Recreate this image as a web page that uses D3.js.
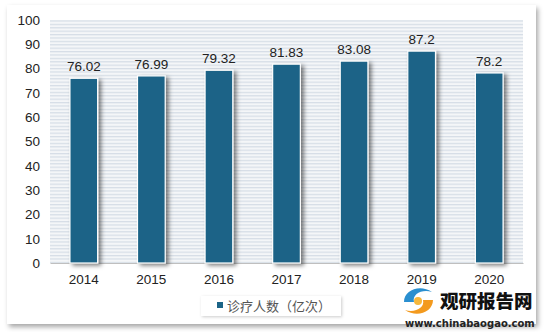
<!DOCTYPE html>
<html><head><meta charset="utf-8">
<script src="https://cdn.jsdelivr.net/npm/d3@7"></script>
<style>body{margin:0;background:#fff;}svg{display:block;}</style>
</head><body>
<script>
const categories = ["2014","2015","2016","2017","2018","2019","2020"];
const values = [76.02,76.99,79.32,81.83,83.08,87.2,78.2];
const valueLabels = ["76.02","76.99","79.32","81.83","83.08","87.2","78.2"];
const yTicks = [0,10,20,30,40,50,60,70,80,90,100];
const seriesName = "诊疗人数（亿次）";

const W=545,H=332;
const svg=d3.select("body").append("svg").attr("width",W).attr("height",H);
const defs=svg.append("defs");
const f=defs.append("filter").attr("id","frameShadow").attr("x","-5%").attr("y","-5%").attr("width","110%").attr("height","115%");
f.append("feDropShadow").attr("dx",2).attr("dy",3).attr("stdDeviation",2.5).attr("flood-color","#000").attr("flood-opacity",0.35);
const bf=defs.append("filter").attr("id","barShadow").attr("x","-30%").attr("y","-10%").attr("width","160%").attr("height","120%");
bf.append("feDropShadow").attr("dx",3).attr("dy",2).attr("stdDeviation",2).attr("flood-color","#000").attr("flood-opacity",0.5);
const lf=defs.append("filter").attr("id","legShadow").attr("x","-10%").attr("y","-20%").attr("width","120%").attr("height","150%");
lf.append("feDropShadow").attr("dx",1).attr("dy",1).attr("stdDeviation",1.5).attr("flood-color","#000").attr("flood-opacity",0.2);
const pat=defs.append("pattern").attr("id","stripes").attr("patternUnits","userSpaceOnUse").attr("width",4).attr("height",3.4);
pat.append("rect").attr("width",4).attr("height",3.4).attr("fill","#f4f6f8");
pat.append("rect").attr("y",0).attr("width",4).attr("height",1.2).attr("fill","#d5dde6");

svg.append("rect").attr("width",W).attr("height",H).attr("fill","#fff");
svg.append("rect").attr("x",7).attr("y",5).attr("width",529).attr("height",319).attr("fill","#fff").attr("filter","url(#frameShadow)");

const m={l:50,r:523,t:20,b:263};
const x=d3.scaleBand().domain(categories).range([m.l,m.r]).paddingInner(0.59).paddingOuter(0.295);
const y=d3.scaleLinear().domain([0,100]).range([m.b,m.t]);

svg.append("rect").attr("x",m.l).attr("y",m.t).attr("width",m.r-m.l).attr("height",m.b-m.t).attr("fill","url(#stripes)");

const yAxis=svg.append("g").attr("transform",`translate(${m.l},0)`)
 .call(d3.axisLeft(y).tickValues(yTicks).tickSize(0).tickPadding(10));
yAxis.select(".domain").remove();
yAxis.selectAll("text").attr("font-family","Liberation Sans, Arial, sans-serif").attr("font-size",13.5).attr("fill","#222");

const xAxis=svg.append("g").attr("transform",`translate(0,${m.b})`)
 .call(d3.axisBottom(x).tickSize(0).tickPadding(11));
xAxis.select(".domain").attr("stroke","#bfbfbf");
xAxis.selectAll("text").attr("font-family","Liberation Sans, Arial, sans-serif").attr("font-size",13.5).attr("fill","#222");

const data=categories.map((c,i)=>({c,v:values[i],l:valueLabels[i]}));
svg.append("g").selectAll("rect").data(data).join("rect")
 .attr("x",d=>x(d.c)).attr("y",d=>y(d.v)).attr("width",x.bandwidth()).attr("height",d=>y(0)-y(d.v))
 .attr("fill","#1b6487").attr("stroke","#fff").attr("stroke-width",1.2).attr("filter","url(#barShadow)");
svg.append("g").selectAll("text").data(data).join("text")
 .attr("x",d=>x(d.c)+x.bandwidth()/2).attr("y",d=>y(d.v)-7).attr("text-anchor","middle")
 .attr("font-family","Liberation Sans, Arial, sans-serif").attr("font-size",13.5).attr("fill","#222").text(d=>d.l);

// legend
const lg=svg.append("g");
lg.append("rect").attr("x",201).attr("y",296).attr("width",140).attr("height",20).attr("fill","#fff").attr("filter","url(#legShadow)");
lg.append("rect").attr("x",217).attr("y",302).attr("width",6).attr("height",6).attr("fill","#1b6487");
lg.append("text").attr("x",227).attr("y",310.5).attr("font-family","Noto Sans CJK SC, sans-serif").attr("font-size",13).attr("fill","#555").text(seriesName);

// watermark
const wm=svg.append("g");
wm.append("path").attr("d","M404,302 C404,290 420,284 432,292 C422,289 412,294 414,302 Z").attr("fill","#2a8fd0");
wm.append("path").attr("d","M433,300 C433,312 417,318 405,310 C415,313 425,308 423,300 Z").attr("fill","#f39a1e");
wm.append("circle").attr("cx",418).attr("cy",301).attr("r",4).attr("fill","#f6b73c");
wm.append("text").attr("x",440).attr("y",308).attr("font-family","Noto Sans CJK SC, sans-serif").attr("font-weight",900).attr("font-size",18.5).attr("fill","#111").text("观研报告网");
wm.append("text").attr("x",405).attr("y",327).attr("font-family","DejaVu Sans, sans-serif").attr("font-weight","bold").attr("font-size",10).attr("fill","#222").text("www.chinabaogao.com");
</script>
</body></html>
